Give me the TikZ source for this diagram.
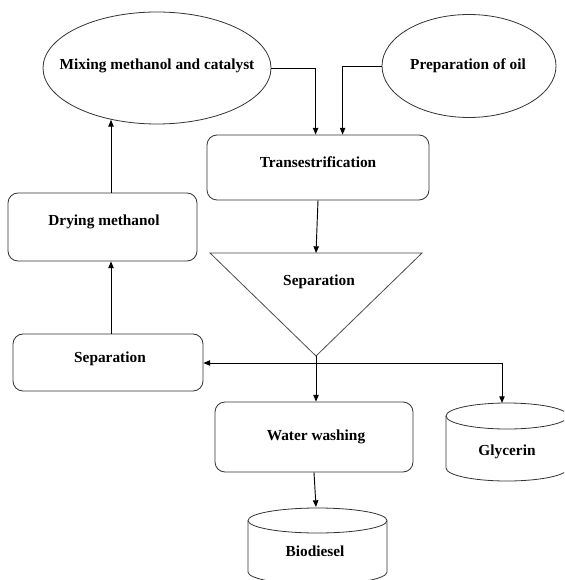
\documentclass[tikz,border=0pt]{standalone}
\usepackage{fontspec}
\setmainfont{Liberation Serif}
\usetikzlibrary{shapes.geometric,arrows.meta,calc}
\begin{document}
\begin{tikzpicture}[x=0.75pt,y=-0.75pt,
  shapeline/.style={draw=black!80, line width=0.6pt},
  oval/.style={shapeline, ellipse, inner sep=0pt},
  box/.style={shapeline, rectangle, rounded corners=7.5pt, inner sep=0pt},
  lbl/.style={font=\bfseries\fontsize{11.5}{13}\selectfont, inner sep=0pt, text=black},
  arr/.style={draw=black, line width=0.7pt, -{Triangle[length=5pt,width=4pt]}}]
\clip (0,0) rectangle (564,580);
\fill[white] (0,0) rectangle (564,580);

% ellipses
\node[oval, minimum width=171pt, minimum height=84pt] (mix) at (157,68) {};
\node[lbl] (mixT) at (157,66) {Mixing methanol and catalyst};
\node[oval, minimum width=130.5pt, minimum height=77.25pt] (oil) at (469,66) {};
\node[lbl] (oilT) at (468,66) {Preparation of oil};

% boxes
\node[box, minimum width=166.5pt, minimum height=48.75pt] (trans) at (318,167.5) {};
\node[lbl] (transT) at (318,162) {Transestrification};
\node[box, minimum width=141.75pt, minimum height=51pt] (dry) at (102.5,227) {};
\node[lbl] (dryT) at (104,222) {Drying methanol};
\node[box, minimum width=142.5pt, minimum height=42.75pt] (sep) at (108,362.5) {};
\node[lbl] (sepT) at (110,359) {Separation};
\node[box, minimum width=148.5pt, minimum height=52.5pt] (ww) at (314,437) {};
\node[lbl] (wwT) at (316,437) {Water washing};

% triangle separator
\coordinate (triL) at (210,253);
\coordinate (triR) at (422,253);
\coordinate (triB) at (316,356);
\coordinate (triT) at (316,253);
\draw[draw=black!70, line width=0.6pt] (triL) -- (triR) -- (triB) -- cycle;
\node[lbl] (triLbl) at (319,282) {Separation};

% cylinders
\draw[shapeline] (507,416) ellipse [x radius=45.75pt, y radius=9.75pt];
\draw[shapeline] (446,416) -- (446,468) arc[start angle=180, end angle=360, x radius=45.75pt, y radius=9.75pt] -- (568,416);
\node[lbl] (glyT) at (507,452) {Glycerin};
\coordinate (glyTop) at (502,403);

\draw[shapeline] (317.5,520.5) ellipse [x radius=52.125pt, y radius=9.375pt];
\draw[shapeline] (248,520.5) -- (248,572) arc[start angle=180, end angle=360, x radius=52.125pt, y radius=9.375pt] -- (387,520.5);
\node[lbl] (bioT) at (315,551) {Biodiesel};
\coordinate (bioTop) at (316,507);

% connectors
\coordinate (in1) at ($(trans.north west)+(109,0)$);
\coordinate (in2) at ($(trans.north west)+(136,0)$);
\draw[arr] (mix.east) -| (in1);
\draw[arr] (oil.west) -| (in2);
\coordinate (d1) at ($(dry.north)+(8.5,0)$);
\draw[arr] (d1) -- (d1 |- mix.229);
\draw[arr] (trans.south) -- (triT);
\coordinate (s1) at ($(sep.north)+(3,0)$);
\draw[arr] (s1) -- (s1 |- dry.south);
\coordinate (split) at (316,363);
\draw[line width=0.7pt] (triB) -- (split);
\draw[arr] (split) -- (split -| sep.east);
\draw[arr] (split) -- (split |- ww.north);
\draw[arr] (split) -| (glyTop);
\draw[arr] (ww.south) -- (bioTop);
\end{tikzpicture}
\end{document}
